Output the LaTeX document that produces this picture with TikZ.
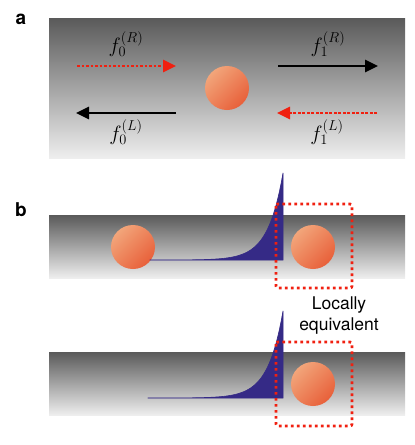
\documentclass[tikz,border=0pt]{standalone}
\usepackage{fontspec}
\newfontfamily\labelfont{TeX Gyre Heros}
\usetikzlibrary{arrows.meta}
\definecolor{bardark}{HTML}{5A5A5A}
\definecolor{barlight}{HTML}{EEEEEE}
\definecolor{balllight}{HTML}{F2A57A}
\definecolor{balldark}{HTML}{E8603A}
\definecolor{wave}{HTML}{352A86}
\definecolor{dotred}{HTML}{F02010}
\begin{document}
\begin{tikzpicture}[x=1pt,y=-1pt,
	bar/.style={top color=bardark, bottom color=barlight},
	ball/.style={circle, minimum size=44pt, inner sep=0pt, top color=balllight, bottom color=balldark, shading angle=45},
	redarrow/.style={draw=dotred, line width=2.8pt, dash pattern=on 2.7pt off 1.8pt, -{Triangle[length=13pt,width=12pt]}},
	blackarrow/.style={draw=black, line width=2.8pt, -{Triangle[length=13pt,width=12pt]}},
	redbox/.style={draw=dotred, line width=2.8pt, dash pattern=on 2.7pt off 3.3pt, rounded corners=2pt},
	panel/.style={font=\labelfont\bfseries\fontsize{19}{20}\selectfont},
	flabel/.style={font=\fontsize{20}{22}\selectfont}]
	\useasboundingbox (0,0) rectangle (415,445);

	% panel a
	\fill[bar] (49,18) rectangle (405,158);
	\node[panel] (la) at (21,19) {a};
	\node[ball] (b0) at (227,88) {};

	\coordinate (r0s) at (77,66);
	\coordinate (r0e) at (176,66);
	\coordinate (r1s) at (278,66);
	\coordinate (r1e) at (378,66);
	\coordinate (l0s) at (176,113);
	\coordinate (l0e) at (76,113);
	\coordinate (l1s) at (377,113);
	\coordinate (l1e) at (277,113);

	\draw[redarrow] (r0s) -- (r0e);
	\draw[blackarrow] (r1s) -- (r1e);
	\draw[blackarrow] (l0s) -- (l0e);
	\draw[redarrow] (l1s) -- (l1e);

	\node[flabel] (f0R) at (126,44) {$f_0^{(R)}$};
	\node[flabel] (f1R) at (328,44) {$f_1^{(R)}$};
	\node[flabel] (f0L) at (126,132) {$f_0^{(L)}$};
	\node[flabel] (f1L) at (327,132) {$f_1^{(L)}$};

	% panel b, upper
	\node[panel] (lb) at (21,210) {b};
	\fill[bar] (49,215) rectangle (405,278);
	\node[ball] (b1) at (133,247) {};
	\node[ball] (b2) at (313,247) {};
	\filldraw[wave, line width=0.6pt] (150,260) -- plot[domain=150:283, samples=80] (\x,{260-87*exp((\x-283)/15)}) -- (283,260) -- cycle;
	\draw[redbox] (276,204) rectangle (352,288);

	\node[font=\labelfont\fontsize{17.5}{21}\selectfont, align=center] (eq) at (339,316) {Locally\\equivalent};

	% panel b, lower
	\fill[bar] (49,352) rectangle (405,415);
	\node[ball] (b3) at (313,384) {};
	\filldraw[wave, line width=0.6pt] (148,398) -- plot[domain=148:283, samples=80] (\x,{398-87*exp((\x-283)/15)}) -- (283,398) -- cycle;
	\draw[redbox] (276,342) rectangle (352,426);
\end{tikzpicture}
\end{document}
